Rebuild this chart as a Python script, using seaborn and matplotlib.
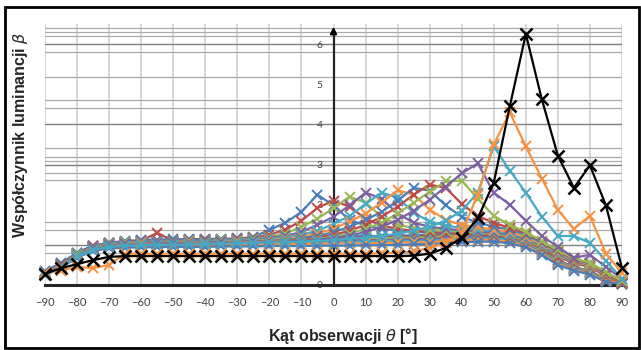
import numpy as np
import pandas as pd
import matplotlib
matplotlib.use("Agg")
import matplotlib.pyplot as plt
import matplotlib.patches as patches
import seaborn as sns

# observation angles
theta = list(range(-90, 95, 5))

# peak series (specular peaks at -5 ... 60 deg)
s_m5 = [0.32, 0.52, 0.80, 0.98, 1.05, 1.08, 1.09, 1.10, 1.10, 1.11, 1.12, 1.13, 1.15, 1.20,
        1.37, 1.55, 1.82, 2.25, 1.98, 1.62, 1.48, 1.40, 1.36, 1.33, 1.30, 1.28, 1.27, 1.25,
        1.22, 1.18, 1.12, 0.95, 0.72, 0.55, 0.45, 0.25, 0.08]
s_0 = [0.30, 0.50, 0.78, 0.96, 1.04, 1.07, 1.08, 1.09, 1.09, 1.10, 1.11, 1.12, 1.14, 1.18,
       1.25, 1.38, 1.60, 1.92, 2.10, 1.95, 1.65, 1.48, 1.40, 1.35, 1.32, 1.30, 1.28, 1.26,
       1.24, 1.20, 1.10, 0.92, 0.70, 0.55, 0.45, 0.22, 0.06]
s_5 = [0.30, 0.48, 0.76, 0.95, 1.03, 1.06, 1.07, 1.08, 1.08, 1.09, 1.10, 1.11, 1.12, 1.15,
       1.20, 1.28, 1.45, 1.65, 1.92, 2.20, 2.05, 1.70, 1.50, 1.42, 1.38, 1.35, 1.32, 1.30,
       1.27, 1.22, 1.12, 0.95, 0.74, 0.58, 0.48, 0.26, 0.08]
s_10 = [0.28, 0.47, 0.75, 0.94, 1.02, 1.05, 1.06, 1.07, 1.07, 1.08, 1.09, 1.10, 1.11, 1.13,
        1.17, 1.22, 1.32, 1.50, 1.70, 1.98, 2.30, 2.15, 1.78, 1.55, 1.45, 1.40, 1.36, 1.33,
        1.30, 1.25, 1.15, 0.98, 0.76, 0.60, 0.50, 0.28, 0.10]
s_15 = [0.28, 0.46, 0.74, 0.93, 1.01, 1.04, 1.05, 1.06, 1.06, 1.07, 1.08, 1.09, 1.10, 1.12,
        1.15, 1.18, 1.25, 1.35, 1.52, 1.72, 2.02, 2.30, 2.18, 1.80, 1.58, 1.48, 1.42, 1.38,
        1.34, 1.28, 1.18, 1.00, 0.78, 0.62, 0.52, 0.30, 0.10]
s_20 = [0.27, 0.45, 0.73, 0.92, 1.00, 1.03, 1.04, 1.05, 1.05, 1.06, 1.07, 1.08, 1.09, 1.10,
        1.12, 1.15, 1.20, 1.28, 1.40, 1.58, 1.78, 2.05, 2.36, 2.25, 1.88, 1.62, 1.50, 1.44,
        1.38, 1.32, 1.20, 1.02, 0.80, 0.63, 0.52, 0.30, 0.10]
s_25 = [0.27, 0.45, 0.72, 0.91, 0.99, 1.02, 1.03, 1.04, 1.04, 1.05, 1.06, 1.07, 1.08, 1.09,
        1.10, 1.12, 1.16, 1.22, 1.32, 1.45, 1.62, 1.82, 2.10, 2.42, 2.35, 1.98, 1.70, 1.55,
        1.45, 1.38, 1.25, 1.05, 0.82, 0.64, 0.54, 0.30, 0.08]
s_30 = [0.26, 0.44, 0.72, 0.90, 0.98, 1.01, 1.02, 1.03, 1.03, 1.04, 1.05, 1.06, 1.07, 1.08,
        1.09, 1.10, 1.13, 1.18, 1.25, 1.35, 1.50, 1.70, 1.95, 2.25, 2.50, 2.42, 2.02, 1.72,
        1.55, 1.42, 1.30, 1.08, 0.84, 0.65, 0.55, 0.30, 0.08]
s_35 = [0.26, 0.44, 0.71, 0.90, 0.97, 1.00, 1.01, 1.02, 1.02, 1.03, 1.04, 1.05, 1.06, 1.07,
        1.08, 1.09, 1.11, 1.15, 1.20, 1.28, 1.40, 1.55, 1.78, 2.05, 2.32, 2.58, 2.60, 2.15,
        1.72, 1.50, 1.32, 1.10, 0.86, 0.66, 0.56, 0.32, 0.10]
s_45 = [0.25, 0.43, 0.70, 0.89, 0.96, 0.99, 1.00, 1.01, 1.01, 1.02, 1.03, 1.04, 1.05, 1.06,
        1.07, 1.08, 1.10, 1.13, 1.17, 1.23, 1.32, 1.45, 1.62, 1.85, 2.12, 2.45, 2.78, 3.03,
        2.30, 2.00, 1.60, 1.22, 0.95, 0.68, 0.75, 0.45, 0.15]
s_50 = [0.25, 0.42, 0.70, 0.88, 0.95, 0.98, 0.99, 1.00, 1.00, 1.01, 1.02, 1.03, 1.04, 1.05,
        1.06, 1.07, 1.08, 1.10, 1.12, 1.15, 1.18, 1.22, 1.28, 1.35, 1.45, 1.60, 1.85, 2.30,
        3.45, 2.85, 2.30, 1.70, 1.22, 1.22, 1.05, 0.60, 0.15]
s_55 = [0.30, 0.36, 0.45, 0.42, 0.50, 0.78, 0.78, 0.78, 0.78, 0.78, 0.78, 0.78, 0.78, 0.78,
        0.78, 0.78, 0.78, 0.78, 0.78, 0.78, 0.78, 0.79, 0.80, 0.84, 0.92, 1.05, 1.30, 2.25,
        3.50, 4.30, 3.45, 2.65, 1.87, 1.40, 1.72, 0.78, 0.30]
s_60 = [0.28, 0.42, 0.52, 0.62, 0.70, 0.72, 0.72, 0.72, 0.72, 0.72, 0.72, 0.72, 0.72, 0.72,
        0.72, 0.72, 0.72, 0.72, 0.72, 0.72, 0.72, 0.72, 0.72, 0.73, 0.78, 0.92, 1.18, 1.66,
        2.55, 4.45, 6.25, 4.62, 3.22, 2.42, 2.98, 1.98, 0.42]

# flat (diffuse) series
f1 = [0.35, 0.55, 0.80, 0.98, 1.05, 1.10, 1.12, 1.13, 1.14, 1.14, 1.15, 1.15, 1.16, 1.17,
      1.18, 1.18, 1.19, 1.20, 1.20, 1.21, 1.22, 1.22, 1.23, 1.24, 1.25, 1.27, 1.30, 1.32,
      1.30, 1.25, 1.12, 0.90, 0.62, 0.45, 0.35, 0.15, 0.02]
f2 = [0.33, 0.52, 0.78, 0.96, 1.04, 1.08, 1.10, 1.30, 1.10, 1.11, 1.12, 1.12, 1.13, 1.14,
      1.15, 1.15, 1.16, 1.16, 1.17, 1.18, 1.18, 1.19, 1.20, 1.21, 1.22, 1.24, 1.26, 1.28,
      1.26, 1.20, 1.08, 0.86, 0.60, 0.43, 0.33, 0.14, 0.03]
f3 = [0.32, 0.50, 0.76, 0.94, 1.02, 1.06, 1.08, 1.09, 1.09, 1.10, 1.10, 1.11, 1.11, 1.12,
      1.12, 1.13, 1.13, 1.14, 1.14, 1.15, 1.15, 1.16, 1.17, 1.18, 1.19, 1.21, 1.23, 1.25,
      1.23, 1.18, 1.05, 0.84, 0.58, 0.42, 0.32, 0.13, 0.04]
f4 = [0.31, 0.49, 0.75, 0.93, 1.00, 1.04, 1.05, 1.06, 1.06, 1.07, 1.07, 1.08, 1.08, 1.09,
      1.09, 1.10, 1.10, 1.10, 1.11, 1.11, 1.12, 1.12, 1.13, 1.14, 1.15, 1.17, 1.19, 1.21,
      1.20, 1.15, 1.02, 0.82, 0.56, 0.40, 0.30, 0.12, 0.05]
f5 = [0.30, 0.48, 0.73, 0.91, 0.98, 1.01, 1.02, 1.03, 1.03, 1.04, 1.04, 1.05, 1.05, 1.05,
      1.06, 1.06, 1.06, 1.07, 1.07, 1.08, 1.08, 1.09, 1.10, 1.10, 1.11, 1.13, 1.15, 1.17,
      1.16, 1.12, 1.00, 0.80, 0.55, 0.39, 0.29, 0.11, 0.06]
f6 = [0.29, 0.46, 0.71, 0.89, 0.95, 0.98, 0.99, 1.00, 1.00, 1.00, 1.01, 1.01, 1.01, 1.02,
      1.02, 1.02, 1.03, 1.03, 1.03, 1.04, 1.04, 1.05, 1.06, 1.06, 1.07, 1.09, 1.11, 1.13,
      1.12, 1.08, 0.97, 0.78, 0.53, 0.38, 0.28, 0.10, 0.07]
f7 = [0.28, 0.44, 0.68, 0.85, 0.91, 0.93, 0.94, 0.94, 0.95, 0.95, 0.95, 0.96, 0.96, 0.96,
      0.97, 0.97, 0.97, 0.98, 0.98, 0.98, 0.99, 0.99, 1.00, 1.01, 1.02, 1.04, 1.06, 1.08,
      1.08, 1.04, 0.94, 0.75, 0.50, 0.36, 0.26, 0.08, 0.02]

series_names = ["f1", "f2", "f3", "f4", "f5", "f6", "f7",
                "-5", "0", "5", "10", "15", "20", "25", "30", "35", "45", "50", "55", "60"]
series_vals = [f1, f2, f3, f4, f5, f6, f7,
               s_m5, s_0, s_5, s_10, s_15, s_20, s_25, s_30, s_35, s_45, s_50, s_55, s_60]

# excel 2007 palette
blue, red, green, purple, cyan, orange = "#4A7EBB", "#BE4B48", "#98B954", "#7D60A0", "#46AAC5", "#F69240"
series_colors = [blue, red, green, purple, cyan, orange, blue,
                 blue, red, green, purple, cyan, orange, blue, red, green, purple, cyan, orange, "#000000"]

y_ticks = [0, 1, 2, 3, 4, 5, 6]
x_ticks = list(range(-90, 100, 10))
grid_major = [1, 3, 4, 6]
grid_minor = [0.79, 1.38, 1.57, 2.62, 2.8, 3.08, 3.2, 3.4, 4.42, 4.6, 5.19, 5.8, 6.19, 6.31, 6.41]

df = pd.DataFrame({
    "theta": theta * len(series_names),
    "beta": [v for s in series_vals for v in s],
    "series": [n for n in series_names for _ in theta],
})

sns.set_style("white")
plt.rcParams["font.family"] = ["Liberation Sans", "DejaVu Sans"]

fig = plt.figure(figsize=(6.41, 3.5), dpi=100)
ax = fig.add_axes([45 / 641, 1 - 285 / 350, 577 / 641, 261 / 350])

# grid
for xv in x_ticks:
    ax.axvline(xv, color="#D4D4D4", lw=1.3, zorder=0)
for yv in grid_minor:
    ax.axhline(yv, color="#ABABAB", lw=0.9, zorder=0)
for yv in grid_major:
    ax.axhline(yv, color="#7F7F7F", lw=1.0, zorder=0)

pal = dict(zip(series_names, series_colors))
for name in series_names:
    sub = df[df["series"] == name]
    is_black = name == "60"
    sns.lineplot(data=sub, x="theta", y="beta", color=pal[name], marker="x",
                 markersize=8.5 if is_black else 7.5, markeredgewidth=1.8 if is_black else 1.4,
                 markeredgecolor=pal[name], linewidth=1.6, ax=ax, legend=False,
                 clip_on=False, zorder=4 if is_black else 3)

ax.set_xlim(-90, 90)
ax.set_ylim(0, 6.5)
ax.set_xticks(x_ticks)
ax.set_yticks(y_ticks)
ax.set_xlabel("")
ax.set_ylabel("")

ax.spines["top"].set_visible(False)
ax.spines["right"].set_visible(False)
ax.spines["left"].set_position(("data", 0))
ax.spines["left"].set_bounds(0, 6.3)
ax.spines["left"].set_linewidth(1.6)
ax.spines["left"].set_zorder(2)
ax.spines["bottom"].set_linewidth(2.2)
ax.spines["bottom"].set_zorder(2)
ax.annotate("", xy=(0, 6.5), xytext=(0, 6.2),
            arrowprops=dict(arrowstyle="-|>", color="black", lw=1.6, mutation_scale=9),
            annotation_clip=False)

ax.tick_params(axis="x", direction="out", length=4, width=1, pad=5,
               labelsize=8, labelcolor="#404040")
ax.tick_params(axis="y", direction="out", length=3, width=1, pad=5,
               labelsize=7.5, labelcolor="#404040")
for lab in ax.get_xticklabels() + ax.get_yticklabels():
    lab.set_family(["Lato", "DejaVu Sans"])

fig.text(343 / 641, 1 - 336 / 350, "Kąt obserwacji $\\theta$ [°]", ha="center", va="center",
         fontsize=11.5, fontweight="bold")
fig.text(21 / 641, 1 - 135 / 350, "Współczynnik luminancji $\\beta$", ha="center", va="center",
         rotation=90, fontsize=11.5, fontweight="bold")

fig.add_artist(patches.Rectangle((5 / 641, 2 / 350), 634 / 641, 341 / 350,
                                 transform=fig.transFigure, fill=False,
                                 edgecolor="black", lw=2))

plt.savefig("out.png", dpi=100)
